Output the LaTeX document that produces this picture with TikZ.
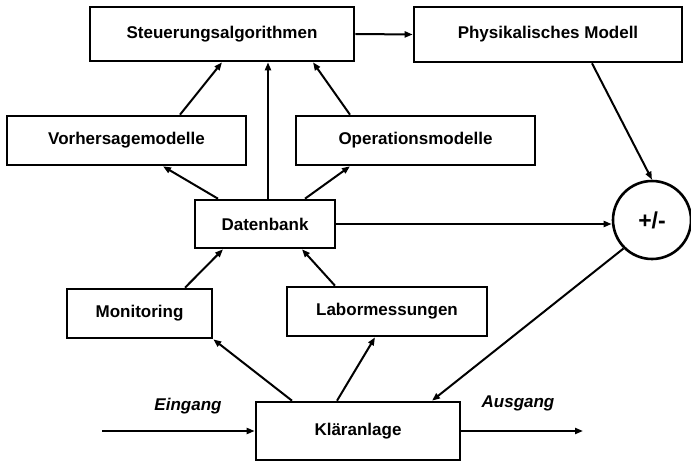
\documentclass[tikz,border=0pt]{standalone}
\usepackage{fontspec}
\setmainfont{Liberation Sans}
\usetikzlibrary{arrows.meta}

\begin{document}
\begin{tikzpicture}[
    x=1pt, y=-1pt,
    box/.style={draw, line width=2.6pt, inner sep=0pt},
    kreisbox/.style={draw, circle, line width=2.6pt, minimum size=78pt, inner sep=0pt, font=\fontsize{23}{26}\selectfont\bfseries},
    pfeil/.style={->, line width=2pt},
    >={Triangle[length=8pt, width=6pt]},
    font=\fontsize{17}{20}\selectfont\bfseries
]
    \useasboundingbox (0,0) rectangle (691,462);

    % Knoten (Kästen)
    \node[box, minimum width=264pt, minimum height=54pt] (steuer) at (222, 34) {Steuerungsalgorithmen};
    \node[box, minimum width=268pt, minimum height=55pt] (physik) at (548, 34.5) {Physikalisches Modell};
    \node[box, minimum width=239pt, minimum height=49pt] (vorher) at (126.5, 140.5) {Vorhersagemodelle};
    \node[box, minimum width=239pt, minimum height=49pt] (operat) at (415.5, 140.5) {Operationsmodelle};
    \node[box, minimum width=140pt, minimum height=48pt] (daten) at (265, 224) {Datenbank};
    \node[kreisbox] (kreis) at (652, 220) {+/-};
    \node[box, minimum width=145pt, minimum height=49pt] (monit) at (139.5, 313.5) {Monitoring};
    \node[box, minimum width=200pt, minimum height=49pt] (labor) at (387, 311.5) {Labormessungen};
    \node[box, minimum width=204pt, minimum height=58pt] (klaer) at (358, 431) {Kläranlage};

    % Ein- und Ausgang
    \coordinate (ein) at (102, 431);
    \coordinate (aus) at (583, 431);
    \node[font=\fontsize{17}{20}\selectfont\bfseries\itshape] (einlabel) at (188, 406) {Eingang};
    \node[font=\fontsize{17}{20}\selectfont\bfseries\itshape] (auslabel) at (518, 403) {Ausgang};

    % Pfeile oben
    \draw[pfeil] (steuer.east) -- (physik.west);
    \draw[pfeil] ([xshift=53.5pt]vorher.north) -- (steuer.south);
    \draw[pfeil] ([xshift=3pt]daten.north) -- ([xshift=46pt]steuer.south);
    \draw[pfeil] ([xshift=-65.5pt]operat.north) -- ([xshift=91pt]steuer.south);
    \draw[pfeil] ([xshift=-47pt]daten.north) -- ([xshift=36.5pt]vorher.south);
    \draw[pfeil] ([xshift=40pt]daten.north) -- ([xshift=-65.5pt]operat.south);

    % Vergleich
    \draw[pfeil] (daten.east) -- (daten.east -| kreis.west);
    \draw[pfeil] ([xshift=44pt]physik.south) -- (kreis.north);
    \draw[pfeil] (kreis.south west) -- ([xshift=74pt]klaer.north);

    % Pfeile unten
    \draw[pfeil] ([xshift=-66pt]klaer.north) -- (monit.south east);
    \draw[pfeil] ([xshift=-21pt]klaer.north) -- ([xshift=-12pt]labor.south);
    \draw[pfeil] ([xshift=45.5pt]monit.north) -- ([xshift=-42pt]daten.south);
    \draw[pfeil] ([xshift=-52pt]labor.north) -- ([xshift=37pt]daten.south);
    \draw[pfeil] (ein) -- (klaer.west);
    \draw[pfeil] (klaer.east) -- (aus);

\end{tikzpicture}
\end{document}
